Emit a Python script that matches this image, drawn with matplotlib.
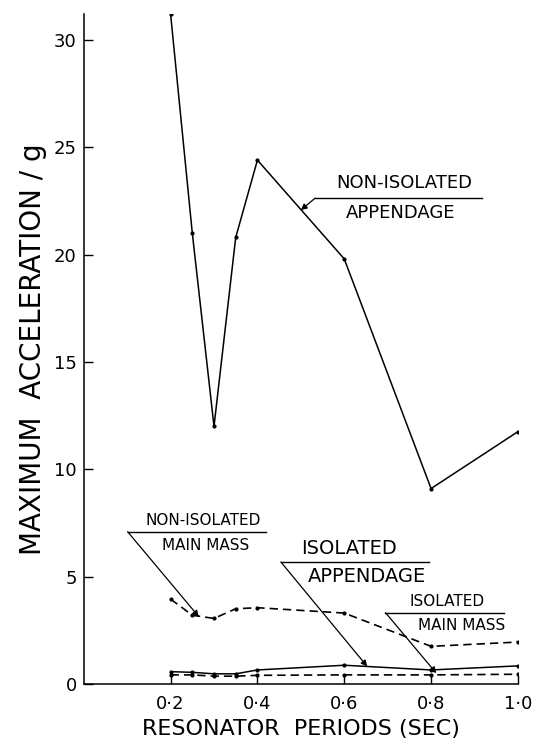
import matplotlib
matplotlib.use("Agg")
import matplotlib.pyplot as plt

plt.rcParams['font.family'] = ['DejaVu Sans']

# Resonator periods (s) and peak accelerations (g)
periods = [0.2, 0.25, 0.3, 0.35, 0.4, 0.6, 0.8, 1.0]
non_isolated_appendage = [31.2, 21.0, 12.0, 20.8, 24.4, 19.8, 9.1, 11.75]
non_isolated_main_mass = [3.95, 3.2, 3.05, 3.5, 3.55, 3.3, 1.75, 1.95]
isolated_appendage = [0.57, 0.54, 0.47, 0.47, 0.65, 0.87, 0.65, 0.84]
isolated_main_mass = [0.42, 0.42, 0.36, 0.36, 0.40, 0.42, 0.42, 0.45]

x_ticks = [0.2, 0.4, 0.6, 0.8, 1.0]
x_tick_labels = ["0·2", "0·4", "0·6", "0·8", "1·0"]
y_ticks = [0, 5, 10, 15, 20, 25, 30]

fig = plt.figure(figsize=(5.44, 7.45), dpi=100)
ax = fig.add_axes([0.154, 0.082, 0.798, 0.899])

solid = dict(color="black", lw=1.1, marker="o", ms=2.0)
dashed = dict(color="black", lw=1.2, marker="o", ms=2.0, dashes=(5, 3))

ax.plot(periods, non_isolated_appendage, **solid)
ax.plot(periods, isolated_appendage, **solid)
ax.plot(periods, non_isolated_main_mass, **dashed)
ax.plot(periods, isolated_main_mass, **dashed)

ax.set_xlim(0, 1.0)
ax.set_ylim(0, 31.2)
ax.set_xticks(x_ticks)
ax.set_xticklabels(x_tick_labels)
ax.set_yticks(y_ticks)
for s in ("top", "right"):
    ax.spines[s].set_visible(False)
for s in ("left", "bottom"):
    ax.spines[s].set_linewidth(1.1)
ax.tick_params(axis="both", direction="in", length=6.5, width=1.0,
               labelsize=13)
ax.tick_params(axis="x", pad=8)
ax.tick_params(axis="y", pad=5)

ax.set_xlabel("RESONATOR  PERIODS (SEC)", fontsize=16, labelpad=4)
ax.set_ylabel("MAXIMUM  ACCELERATION / g", fontsize=20, labelpad=5)


def label(lines, rule_x, rule_y, tip, size, centers):
    """Two-line caption with an underline and a leader arrow to a curve."""
    (top_txt, bot_txt) = lines
    (cx1, cy1), (cx2, cy2) = centers
    ax.text(cx1, cy1, top_txt, ha="center", va="center", fontsize=size)
    ax.text(cx2, cy2, bot_txt, ha="center", va="center", fontsize=size)
    ax.plot(rule_x, [rule_y, rule_y], color="black", lw=1.0)
    ax.annotate("", xy=tip, xytext=(rule_x[0], rule_y),
                arrowprops=dict(arrowstyle="-|>", color="black", lw=0.9,
                                mutation_scale=9, shrinkA=0, shrinkB=0))


label(("NON-ISOLATED", "APPENDAGE"), (0.533, 0.917), 22.63, (0.500, 22.07),
      13, ((0.739, 23.35), (0.730, 21.95)))
label(("NON-ISOLATED", "MAIN MASS"), (0.101, 0.420), 7.09, (0.265, 3.13),
      11, ((0.274, 7.6), (0.280, 6.47)))
label(("ISOLATED", "APPENDAGE"), (0.454, 0.796), 5.68, (0.653, 0.81),
      14, ((0.611, 6.33), (0.653, 5.0)))
label(("ISOLATED", "MAIN MASS"), (0.695, 0.968), 3.32, (0.812, 0.50),
      11, ((0.838, 3.83), (0.870, 2.70)))

fig.savefig("out.png", dpi=100)
